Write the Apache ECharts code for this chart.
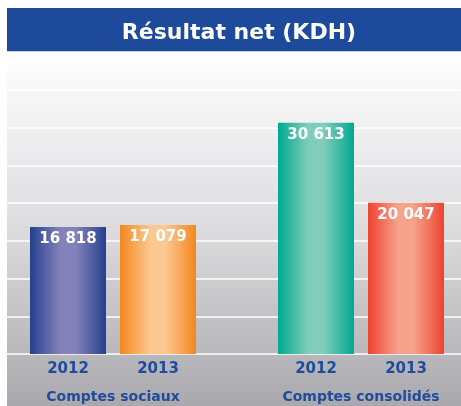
<!DOCTYPE html>
<html>
<head>
<meta charset="utf-8">
<script src="https://cdn.jsdelivr.net/npm/echarts@6/dist/echarts.min.js"></script>
<style>
  html, body { margin: 0; padding: 0; background: #fff; }
  #chart { width: 461px; height: 406px; }
</style>
</head>
<body>
<div id="chart"></div>
<script>
const years = ['2012', '2013'];
const groups = ['Comptes sociaux', 'Comptes consolidés'];
const sociaux = [16818, 17079];
const consolides = [30613, 20047];
const yTicks = [0, 5000, 10000, 15000, 20000, 25000, 30000, 35000, 40000];

// edge / centre colours for each bar
const barColors = [
  [['#24408f', '#8482bb'], ['#f4861c', '#fcc892']],
  [['#00a98f', '#80cdbb'], ['#ee4231', '#f5a38b']]
];

const myChart = echarts.init(document.getElementById('chart'));

function fmt(v) {
  return String(v).replace(/\B(?=(\d{3})+(?!\d))/g, ' ');
}

function barGrad(c) {
  return new echarts.graphic.LinearGradient(0, 0, 1, 0, [
    { offset: 0, color: c[0] },
    { offset: 0.4, color: c[1] },
    { offset: 0.6, color: c[1] },
    { offset: 1, color: c[0] }
  ]);
}

const font = '"DejaVu Sans", sans-serif';
const blue = '#1f4b9c';

const yMax = yTicks[yTicks.length - 1];
const yStep = yTicks[1] - yTicks[0];

function barSeries(idx, values) {
  return {
    type: 'bar',
    xAxisIndex: idx + 1,
    yAxisIndex: idx + 1,
    barWidth: 76,
    data: values.map((v, i) => ({
      value: v,
      itemStyle: { color: barGrad(barColors[idx][i]) }
    })),
    label: {
      show: true,
      position: 'insideTop',
      distance: 5,
      color: '#fff',
      fontFamily: font,
      fontWeight: 'bold',
      fontSize: 15,
      formatter: p => fmt(p.value)
    },
    silent: true
  };
}

function groupAxis(idx) {
  return {
    type: 'category',
    gridIndex: idx + 1,
    data: years,
    axisLine: { show: false },
    axisTick: { show: false },
    axisLabel: {
      color: blue,
      fontFamily: font,
      fontWeight: 'bold',
      fontSize: 15,
      margin: 8
    },
    name: groups[idx],
    nameLocation: 'middle',
    nameGap: 36,
    nameTextStyle: {
      color: blue,
      fontFamily: font,
      fontWeight: 'bold',
      fontSize: 14
    }
  };
}

function hiddenY(idx) {
  return {
    type: 'value',
    gridIndex: idx + 1,
    min: 0,
    max: yMax,
    interval: yStep,
    show: false
  };
}

const gridBase = { top: 52, bottom: 52, outerBoundsMode: 'none', containLabel: false };

const option = {
  animation: false,
  backgroundColor: '#fff',
  title: {
    text: 'Résultat net (KDH)',
    left: 234,
    textAlign: 'center',
    top: 17,
    textStyle: {
      color: '#fff',
      fontFamily: font,
      fontWeight: 'bold',
      fontSize: 22
    }
  },
  graphic: [
    {
      type: 'rect',
      z: -10,
      shape: { x: 7, y: 8, width: 454, height: 44 },
      style: { fill: '#1e4a9c' }
    },
    {
      type: 'rect',
      z: -10,
      shape: { x: 7, y: 52, width: 454, height: 354 },
      style: {
        fill: new echarts.graphic.LinearGradient(0, 0, 0, 1, [
          { offset: 0, color: '#ffffff' },
          { offset: 0.5, color: '#dcdcdf' },
          { offset: 1, color: '#a9a9ad' }
        ])
      }
    }
  ],
  grid: [
    Object.assign({ left: 7, right: 0 }, gridBase),
    Object.assign({ left: 23, width: 180 }, gridBase),
    Object.assign({ left: 271, width: 180 }, gridBase)
  ],
  xAxis: [
    { type: 'category', gridIndex: 0, data: [''], show: false },
    groupAxis(0),
    groupAxis(1)
  ],
  yAxis: [
    {
      type: 'value',
      gridIndex: 0,
      min: 0,
      max: yMax,
      interval: yStep,
      axisLine: { show: false },
      axisTick: { show: false },
      axisLabel: { show: false },
      splitLine: { lineStyle: { color: '#ffffff', width: 1.5 } }
    },
    hiddenY(0),
    hiddenY(1)
  ],
  series: [
    barSeries(0, sociaux),
    barSeries(1, consolides)
  ]
};

myChart.setOption(option);
</script>
</body>
</html>
